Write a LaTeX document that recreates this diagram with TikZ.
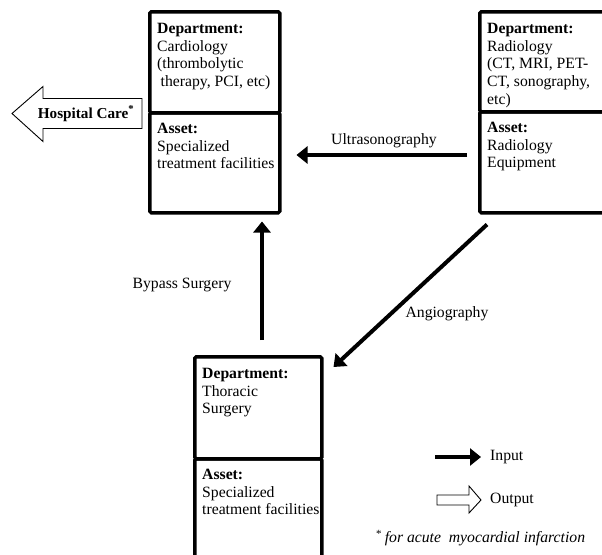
\documentclass[tikz,border=0pt]{standalone}
\usepackage{fontspec}
\setmainfont{Liberation Serif}
\usetikzlibrary{arrows.meta,calc}
\begin{document}
\begin{tikzpicture}[x=1pt,y=-1pt,
  boxpart/.style={draw, line width=3.5pt, rounded corners=1.5pt, anchor=north west, inner sep=0pt},
  txt/.style={anchor=north west, align=left, inner sep=0pt, font=\fontsize{15.7}{17.7}\selectfont},
  lbl/.style={inner sep=0pt, font=\fontsize{15.7}{17.7}\selectfont},
  inarrow/.style={line width=4pt, -{Triangle[length=11pt,width=17pt]}},
  outarrow/.style={draw, line width=0.9pt, fill=white, line join=miter}
]
\useasboundingbox (0,0) rectangle (602,554);
\clip (0,0) rectangle (602,554);

% Cardiology
\node[boxpart, minimum width=130pt, minimum height=101pt] (cardD) at (148,10) {};
\node[boxpart, minimum width=130pt, minimum height=100pt] (cardA) at (148,111) {};
\node[txt] (cardDt) at ($(cardD.north west)+(9,13)$) {\textbf{Department:}\\Cardiology\\(thrombolytic\\\hspace*{3.5pt}therapy, PCI, etc)};
\node[txt] (cardAt) at ($(cardA.north west)+(9,12)$) {\textbf{Asset:}\\Specialized\\treatment facilities};

% Radiology
\node[boxpart, minimum width=170pt, minimum height=100pt] (radD) at (478,10) {};
\node[boxpart, minimum width=170pt, minimum height=101pt] (radA) at (478,110) {};
\node[txt] (radDt) at ($(radD.north west)+(9,13)$) {\textbf{Department:}\\Radiology\\(CT, MRI, PET-\\CT, sonography,\\etc)};
\node[txt] (radAt) at ($(radA.north west)+(9,12)$) {\textbf{Asset:}\\Radiology\\Equipment};

% Thoracic
\node[boxpart, minimum width=127pt, minimum height=102pt] (thorD) at (193,355) {};
\node[boxpart, minimum width=127pt, minimum height=130pt] (thorA) at (193,457) {};
\node[txt] (thorDt) at ($(thorD.north west)+(9,13)$) {\textbf{Department:}\\Thoracic\\Surgery};
\node[txt] (thorAt) at ($(thorA.north west)+(9,12)$) {\textbf{Asset:}\\Specialized\\treatment facilities};

% Input arrows
\draw[inarrow] ($(radA.north west)+(-11,45)$) -- ($(cardA.north east)+(15,44)$);
\draw[inarrow] ($(thorD.north west)+(69,-15)$) -- ($(cardA.south west)+(114,7)$);
\draw[inarrow] ($(radA.south west)+(9,10)$) -- ($(thorD.north east)+(10,12)$);

\node[lbl] (ultra) at (384,141) {Ultrasonography};
\node[lbl] (bypass) at (182,285) {Bypass Surgery};
\node[lbl] (angio) at (447,314) {Angiography};

% Hospital care output arrow
\coordinate (hc) at ($(cardD.south west)+(-6,-1)$);
\draw[outarrow] ($(hc)+(0,-15)$) -- ($(hc)+(-99,-15)$) -- ($(hc)+(-99,-27)$) -- ($(hc)+(-130,0)$)
  -- ($(hc)+(-99,28)$) -- ($(hc)+(-99,15)$) -- ($(hc)+(0,15)$) -- cycle;
\node[lbl, font=\fontsize{15.2}{17}\selectfont\bfseries] (hosp) at ($(hc)+(-56,0)$) {Hospital Care\textsuperscript{*}};

% Legend
\coordinate (inA) at (435,457);
\coordinate (inB) at (481,457);
\draw[inarrow] (inA) -- (inB);
\node[lbl, anchor=west] (inlbl) at (490,457) {Input};
\coordinate (outA) at (437,500);
\draw[outarrow] ($(outA)+(0,-5)$) -- ($(outA)+(32,-5)$) -- ($(outA)+(32,-14)$) -- ($(outA)+(44,0)$)
  -- ($(outA)+(32,13)$) -- ($(outA)+(32,5)$) -- ($(outA)+(0,5)$) -- cycle;
\node[lbl, anchor=west] (outlbl) at (490,500) {Output};

\node[lbl, anchor=west] (foot) at (376,538) {\textsuperscript{*}\,\textit{for acute\ \ myocardial infarction}};
\end{tikzpicture}
\end{document}
